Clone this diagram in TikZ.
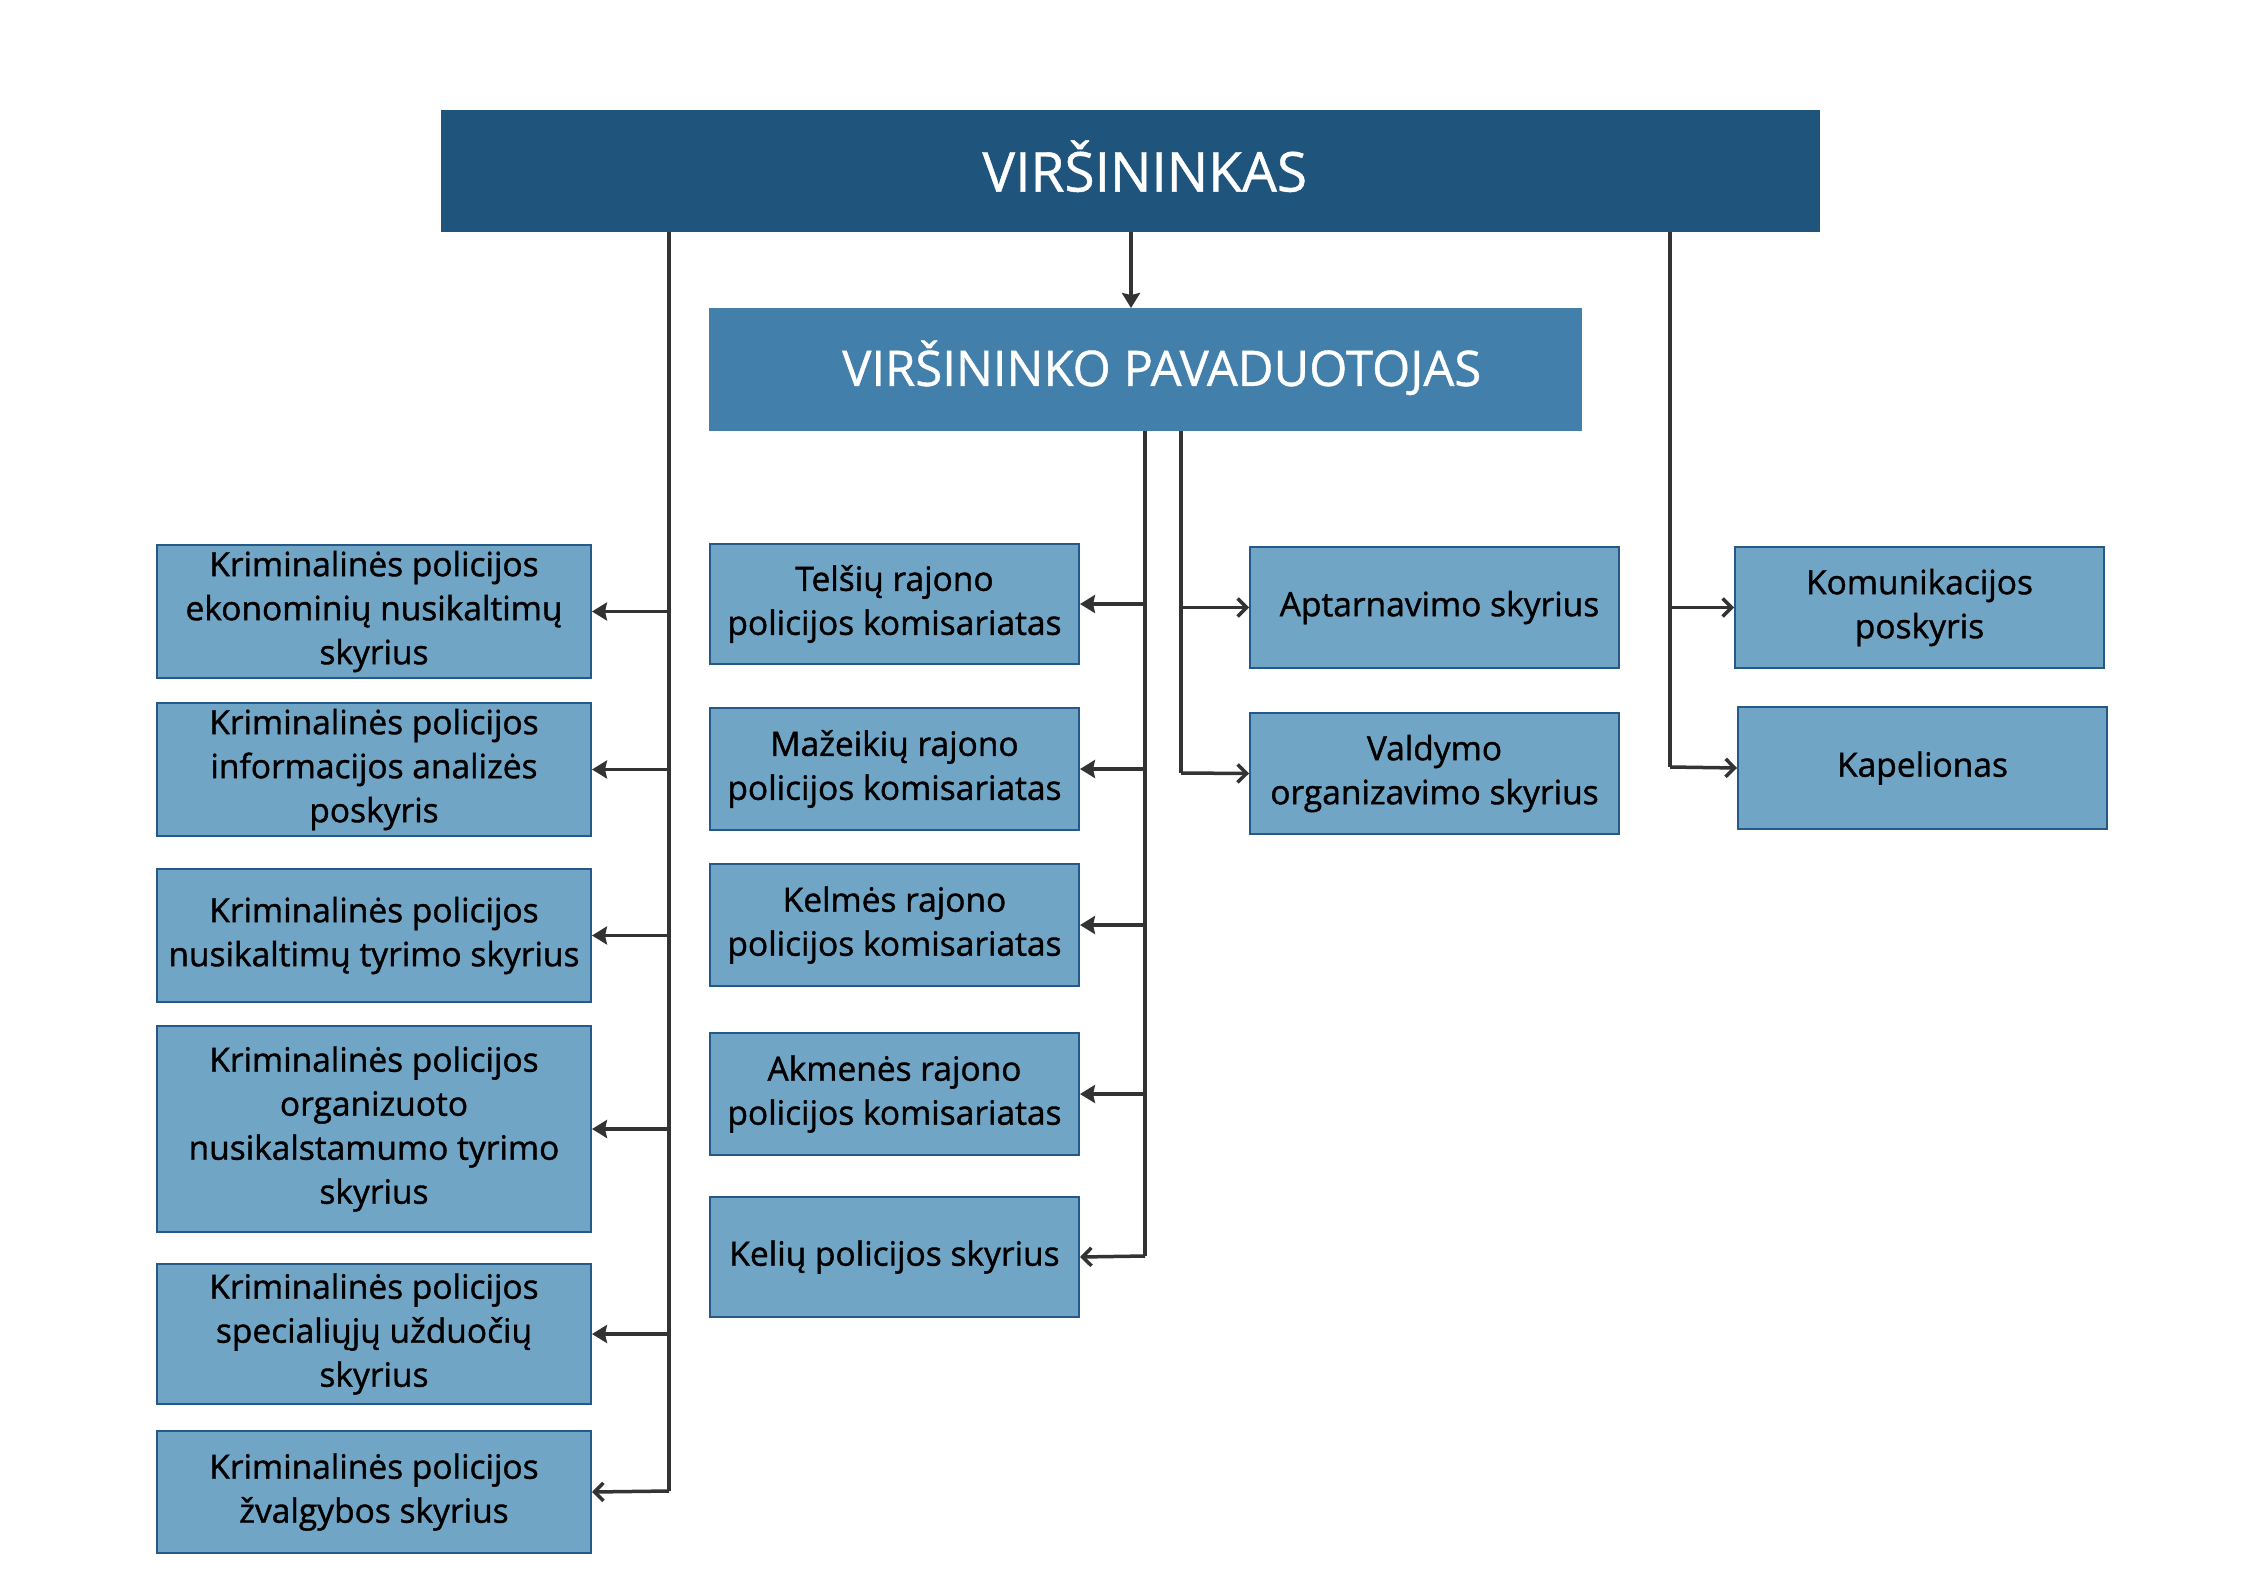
\documentclass[tikz,border=0pt]{standalone}
\usepackage{fontspec}
\setmainfont{Open Sans}
\newfontfamily\boxfont{Open Sans}[FakeBold=1.2]
\newfontfamily\titlefont{Open Sans}[FakeBold=0.8]
\usetikzlibrary{arrows.meta}
\definecolor{topcol}{HTML}{1F547C}
\definecolor{depcol}{HTML}{427FAB}
\definecolor{boxcol}{HTML}{70A5C6}
\definecolor{bordcol}{HTML}{24598A}
\definecolor{linecol}{HTML}{333333}
\tikzset{
  unitbox/.style={draw=bordcol, line width=2pt, fill=boxcol, text=black, align=center,
    inner sep=0pt, anchor=north west, font=\boxfont\fontsize{33.5}{44}\selectfont},
  conn/.style={draw=linecol, line width=3.5pt},
  arrf/.style={conn, -{Stealth[length=15pt,width=18pt,inset=2pt]}},
  arro/.style={conn, -{Straight Barb[length=9pt,width=18pt,line width=3.5pt]}},
}
\begin{document}
\begin{tikzpicture}[x=1pt,y=-1pt]
\useasboundingbox (0,0) rectangle (2245,1587);
% top boxes
\node[fill=topcol, anchor=north west, minimum width=1379pt, minimum height=122pt, inner sep=0pt] (top) at (441,110) {};
\node[text=white, font=\titlefont\fontsize{55}{60}\selectfont] (toptext) at ([xshift=14pt,yshift=5pt]top.center) {VIRŠININKAS};
\node[fill=depcol, anchor=north west, minimum width=873pt, minimum height=123pt, inner sep=0pt] (dep) at (709,308) {};
\node[text=white, font=\titlefont\fontsize{49}{54}\selectfont] (deptext) at ([xshift=16pt,yshift=2pt]dep.center) {VIRŠININKO PAVADUOTOJAS};
% left column
\node[unitbox, minimum width=434pt, minimum height=133pt] (l1) at (156,544) {Kriminalinės policijos\\ekonominių nusikaltimų\\skyrius};
\node[unitbox, minimum width=434pt, minimum height=133pt] (l2) at (156,702) {Kriminalinės policijos\\informacijos analizės\\poskyris};
\node[unitbox, minimum width=434pt, minimum height=133pt] (l3) at (156,868) {Kriminalinės policijos\\nusikaltimų tyrimo skyrius};
\node[unitbox, minimum width=434pt, minimum height=206pt] (l4) at (156,1025) {Kriminalinės policijos\\organizuoto\\nusikalstamumo tyrimo\\skyrius};
\node[unitbox, minimum width=434pt, minimum height=140pt] (l5) at (156,1263) {Kriminalinės policijos\\specialiųjų užduočių\\skyrius};
\node[unitbox, minimum width=434pt, minimum height=122pt] (l6) at (156,1430) {Kriminalinės policijos\\žvalgybos skyrius};
% middle column
\node[unitbox, minimum width=369pt, minimum height=120pt] (m1) at (709,543) {Telšių rajono\\policijos komisariatas};
\node[unitbox, minimum width=369pt, minimum height=122pt] (m2) at (709,707) {Mažeikių rajono\\policijos komisariatas};
\node[unitbox, minimum width=369pt, minimum height=122pt] (m3) at (709,863) {Kelmės rajono\\policijos komisariatas};
\node[unitbox, minimum width=369pt, minimum height=122pt] (m4) at (709,1032) {Akmenės rajono\\policijos komisariatas};
\node[unitbox, minimum width=369pt, minimum height=120pt] (m5) at (709,1196) {Kelių policijos skyrius};
% right middle
\node[unitbox, minimum width=369pt, minimum height=121pt] (r1) at (1249,546) {\hspace*{10pt}Aptarnavimo skyrius};
\node[unitbox, minimum width=369pt, minimum height=121pt] (r2) at (1249,712) {Valdymo\\organizavimo skyrius};
% far right
\node[unitbox, minimum width=369pt, minimum height=121pt] (f1) at (1734,546) {Komunikacijos\\poskyris};
\node[unitbox, minimum width=369pt, minimum height=122pt] (f2) at (1737,706) {Kapelionas};
% trunk coordinates
\coordinate (lt) at (669,1491);
\coordinate (mt) at (1145,1256);
\coordinate (rt) at (1181,773);
\coordinate (ft) at (1670,767);
% top -> deputy
\draw[arrf] (top.south -| 1131,0) -- (dep.north -| 1131,0);
% left trunk
\draw[conn] (top.south -| lt) -- (lt);
\foreach \b in {l1,l2,l3,l4,l5} \draw[arrf] (lt |- \b.east) -- (\b.east);
\draw[arro] (lt) -- (l6.east);
% deputy left trunk
\draw[conn] (dep.south -| mt) -- (mt);
\foreach \b in {m1,m2,m3,m4} \draw[arrf] (mt |- \b.east) -- (\b.east);
\draw[arro] (mt) -- (m5.east);
% deputy right trunk
\draw[conn] (dep.south -| rt) -- (rt);
\draw[arro] (rt |- r1.west) -- (r1.west);
\draw[arro] (rt) -- (r2.west);
% far right trunk
\draw[conn] (top.south -| ft) -- (ft);
\draw[arro] (ft |- f1.west) -- (f1.west);
\draw[arro] (ft) -- (f2.west);
\end{tikzpicture}
\end{document}
